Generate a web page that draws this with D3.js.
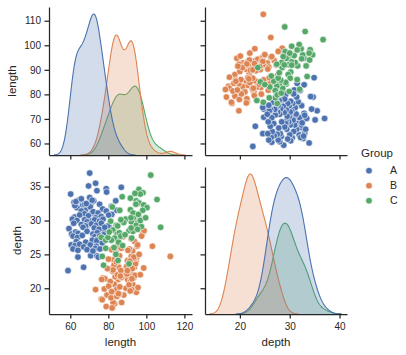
<!DOCTYPE html>
<html><head><meta charset="utf-8">
<script src="https://cdn.jsdelivr.net/npm/d3@7"></script>
<style>
body{margin:0;background:#fff}
text{font-family:"Liberation Sans",Arial,sans-serif;fill:#262626}
</style>
</head><body>
<svg id="c" width="406" height="355"></svg>
<script>
const groups = ["A","B","C"];
const colors = ["#4c72b0","#dd8452","#55a868"];
const variables = ["length","depth"];

const lengthA = [70.2,69.6,73.3,60.2,74.0,78.9,79.1,86.8,83.9,58.8,67.0,64.0,70.7,74.0,74.7,81.6,81.8,84.5,80.5,
62.0,66.5,71.0,75.4,
63.5,68.0,70.5,77.0,
71.4,65.8,67.5,72.0,74.6,78.9,
62.3,64.9,69.5,73.3,76.3,80.2,
70.9,61.1,63.5,67.5,68.8,72.8,75.4,77.2,
69.0,61.8,65.8,68.1,71.1,73.7,76.3,79.8,
59.3,73.0,66.7,77.8,72.6,75.1,78.1,
60.7,62.8,64.0,68.8,71.9,74.2,77.5,
61.4,63.8,66.3,76.9,72.8,75.4,79.0,
72.4,63.2,74.4,68.1,71.6,73.9,76.8,
60.5,62.5,64.9,67.0,70.5,73.7,
61.4,64.0,73.2,68.8,71.9,75.6,
62.4,64.2,67.5,70.2,72.3,
63.0,65.8,68.4,71.5];
const depthA = [37.0,35.1,35.5,33.9,34.4,34.7,34.2,34.9,32.9,22.6,23.1,24.6,24.8,24.8,24.6,32.1,30.9,31.5,29.0,
32.7,32.3,32.6,32.4,
31.9,31.6,32.0,31.7,
31.1,31.4,31.0,31.3,31.1,31.4,
30.5,30.8,30.7,30.4,30.6,30.8,
29.9,30.2,30.0,30.1,29.8,30.1,29.9,30.2,
29.3,29.6,29.4,29.2,29.5,29.3,29.6,29.2,
28.8,28.7,29.0,28.6,28.9,28.7,29.0,
28.0,28.3,28.1,28.4,28.0,28.2,27.9,
27.7,27.5,27.8,27.4,27.6,27.7,27.3,
27.0,26.9,27.2,26.8,27.1,27.0,26.7,
26.4,26.3,26.5,26.1,26.4,26.2,
25.8,25.6,25.9,25.7,25.5,25.8,
32.2,33.0,32.4,33.4,32.9,
32.8,33.2,32.5,33.0];

const lengthB = [112.6,103.2,98.6,97.9,98.8,73.3,78.9,83.3,82.5,76.3,77.2,79.3,94.7,88.1,93.8,95.1,97.5,95.4,92.8,94.5,
93.7,91.9,92.8,95.6,92.3,89.3,88.6,85.8,90.2,81.7,80.8,78.2,76.5,77.9,76.8,82.0,81.4,
84.0,85.2,83.1,81.2,84.7,82.8,85.9,83.6,80.9,84.3,86.0,82.2,85.5,83.9,94.3,81.0,80.2,84.8,86.8,84.9,
83.0,85.0,82.5,86.6,95.0,84.5,86.3,81.8,80.1,79.5,90.6,84.2,92.1,90.1,91.8,89.6,92.6,90.9,92.0,91.1,
93.2,90.3,92.0,89.8,93.6,91.5,90.0,93.4,87.8,91.3,94.0,92.4,87.0,85.3,84.6,86.8,96.2,96.8];
const depthB = [24.7,26.2,23.0,28.0,28.5,19.8,17.3,17.7,17.9,18.4,21.5,19.0,19.4,19.0,26.9,26.2,27.7,26.4,25.5,24.0,
23.1,22.3,20.6,20.1,19.8,20.0,21.9,19.1,21.3,25.7,22.8,21.4,21.3,19.9,18.3,17.1,18.6,
22.0,21.3,20.6,22.8,23.5,24.2,24.8,21.7,20.8,19.8,20.2,22.5,23.1,25.3,23.6,21.0,20.3,22.0,21.6,24.1,
23.4,26.1,22.7,22.6,24.6,18.8,21.8,19.5,24.3,22.9,22.6,23.9,24.7,24.1,21.2,23.2,22.9,20.5,21.7,25.8,
21.5,25.6,27.3,22.1,24.4,19.6,22.6,24.6,27.6,24.0,21.9,21.4,17.9,19.2,26.2,25.9,25.0,22.0];

const lengthC = [102.3,96.1,98.2,96.8,105.6,107.5,82.1,94.7,96.1,98.6,91.6,93.0,93.3,92.1,89.1,88.1,95.6,96.5,94.7,
97.4,90.9,93.0,86.2,84.2,82.5,84.6,83.3,85.4,81.6,76.3,78.6,79.8,78.6,76.8,77.5,90.9,85.1,94.5,100.3,
98.1,95.8,91.9,86.6,96.8,95.4,92.0,84.9,85.8,92.3,86.6,91.6,80.5,83.0,87.5,88.8,81.2,86.0,
87.3,94.0,99.6,84.0];
const depthC = [36.7,34.6,34.1,33.9,33.1,29.0,32.0,32.9,32.6,32.3,31.6,31.1,30.3,29.8,30.2,29.7,29.8,30.2,29.3,
29.1,28.5,28.4,27.6,29.3,28.6,28.0,27.4,26.8,27.1,27.5,27.1,27.5,25.9,24.7,23.4,23.6,24.1,32.4,31.9,
31.5,30.9,30.4,30.1,30.0,28.7,28.9,29.2,28.2,27.4,27.7,33.3,28.3,26.0,26.3,27.9,29.9,31.5,
33.5,34.0,30.4,25.0];

const lengthTicksX = [60,80,100,120];
const lengthTicksY = [60,70,80,90,100,110];
const depthTicksX = [20,30,40];
const depthTicksY = [20,25,30,35];

const lengthData = [lengthA, lengthB, lengthC];
const depthData = [depthA, depthB, depthC];

const svg = d3.select("#c");
const ink = "#262626";
const colX = [[49,192],[205,347]];
const rowY = [[7,155],[167,314]];

const xLen = d3.scaleLinear().domain([48.8,124]).range(colX[0]);
const xDep = d3.scaleLinear().domain([13,41.5]).range(colX[1]);
const yLen = d3.scaleLinear().domain([55.3,115.6]).range([rowY[0][1],rowY[0][0]]);
const yDep = d3.scaleLinear().domain([16.2,37.9]).range([rowY[1][1],rowY[1][0]]);
const xScales = [xLen, xDep], yScales = [yLen, yDep];
const xTicks = [lengthTicksX, depthTicksX], yTicks = [lengthTicksY, depthTicksY];
const dataByVar = [lengthData, depthData];
const yLabelX = [15.5, 21];

const defs = svg.append("defs");
for (let r=0;r<2;r++) for (let c=0;c<2;c++){
  defs.append("clipPath").attr("id",`clip${r}${c}`).append("rect")
    .attr("x",colX[c][0]).attr("y",rowY[r][0])
    .attr("width",colX[c][1]-colX[c][0]).attr("height",rowY[r][1]-rowY[r][0]);
}

const nTotal = lengthA.length + lengthB.length + lengthC.length;
function kde(values){
  const n = values.length;
  const sd = d3.deviation(values);
  const bw = sd * Math.pow(n, -0.2);
  const lo = d3.min(values) - 3*bw, hi = d3.max(values) + 3*bw;
  const pts = [];
  for (let i=0;i<200;i++){
    const x = lo + (hi-lo)*i/199;
    let s = 0;
    for (const v of values){ const z=(x-v)/bw; s += Math.exp(-0.5*z*z); }
    pts.push([x, s/(n*bw*Math.sqrt(2*Math.PI)) * n/nTotal]);
  }
  return pts;
}

for (let r=0;r<2;r++){
  for (let c=0;c<2;c++){
    const g = svg.append("g");
    const plot = g.append("g").attr("clip-path",`url(#clip${r}${c})`);
    const xs = xScales[c], ys = yScales[r];
    if (r===c){
      const curves = dataByVar[c].map(kde);
      const maxD = d3.max(curves, cv => d3.max(cv, p=>p[1]));
      const yd = d3.scaleLinear().domain([0, maxD*1.05]).range([rowY[r][1], rowY[r][0]]);
      const area = d3.area().x(p=>xs(p[0])).y0(yd(0)).y1(p=>yd(p[1]));
      const line = d3.line().x(p=>xs(p[0])).y(p=>yd(p[1]));
      for (let k=2;k>=0;k--){
        plot.append("path").datum(curves[k]).attr("d",area)
          .attr("fill",colors[k]).attr("fill-opacity",0.25).attr("stroke","none");
        plot.append("path").datum(curves[k]).attr("d",line)
          .attr("fill","none").attr("stroke",colors[k]).attr("stroke-width",1.1);
      }
    } else {
      for (let k=0;k<3;k++){
        const xv = dataByVar[c][k], yv = dataByVar[r][k];
        plot.selectAll(null).data(d3.range(xv.length)).join("circle")
          .attr("cx",i=>xs(xv[i])).attr("cy",i=>ys(yv[i])).attr("r",3.3)
          .attr("fill",colors[k]).attr("stroke","#fff").attr("stroke-width",0.6);
      }
    }
    const ax = d3.axisBottom(xs).tickValues(xTicks[c]).tickSize(4.5).tickPadding(4.5).tickSizeOuter(0);
    if (r===0) ax.tickFormat("");
    const gx = g.append("g").attr("transform",`translate(0,${rowY[r][1]})`).call(ax);
    const ay = d3.axisLeft(ys).tickValues(yTicks[r]).tickSize(4.5).tickPadding(3.5).tickSizeOuter(0);
    if (c===1) ay.tickFormat("");
    const gy = g.append("g").attr("transform",`translate(${colX[c][0]},0)`).call(ay);
    [gx,gy].forEach(a=>{
      a.select(".domain").attr("stroke",ink).attr("stroke-width",1.25);
      a.selectAll(".tick line").attr("stroke",ink).attr("stroke-width",1.25);
      a.selectAll(".tick text").attr("font-size",10).attr("fill",ink)
        .attr("font-family","'Liberation Sans',Arial,sans-serif");
    });
    if (c===0){
      svg.append("text").attr("transform",`translate(${yLabelX[r]},${(rowY[r][0]+rowY[r][1])/2}) rotate(-90)`)
        .attr("text-anchor","middle").attr("font-size",11.5).text(variables[r]);
    }
    if (r===1){
      svg.append("text").attr("x",(colX[c][0]+colX[c][1])/2).attr("y",345.5)
        .attr("text-anchor","middle").attr("font-size",11.5).text(variables[c]);
    }
  }
}

const lg = svg.append("g");
lg.append("text").attr("x",361).attr("y",157).attr("font-size",11.5).text("Group");
groups.forEach((gname,i)=>{
  lg.append("circle").attr("cx",369).attr("cy",170.7+15*i).attr("r",3.3).attr("fill",colors[i])
    .attr("stroke","#fff").attr("stroke-width",0.6);
  lg.append("text").attr("x",390).attr("y",170.7+15*i).attr("dy","0.35em").attr("font-size",10.5).text(gname);
});
</script>
</body></html>
